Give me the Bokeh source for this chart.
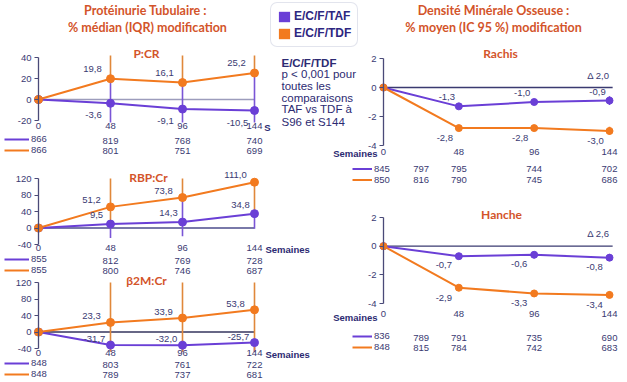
from bokeh.plotting import figure
from bokeh.models import Range1d, LinearAxis, FixedTicker, Label, Legend, LegendItem
from bokeh.embed import file_html
from bokeh.resources import INLINE
from bokeh.core.properties import value

# ---------------- data ----------------
weeks = [0, 48, 96, 144]
count_weeks_left = [0, 48, 96, 144]
count_weeks_right = [0, 24, 48, 96, 144]
series_names = ["E/C/F/TAF", "E/C/F/TDF"]

# Protéinurie tubulaire : % médian (IQR)
pcr_ticks = [-20, 0, 20, 40]
pcr_taf = [0, -3.6, -9.1, -10.5]
pcr_taf_lo = [0, -22, -22, -22]
pcr_taf_hi = [0, 22, 20, 24]
pcr_tdf = [0, 19.8, 16.1, 25.2]
pcr_tdf_lo = [0, 18, 14, 24]
pcr_tdf_hi = [0, 42, 42, 42]
pcr_n_taf = [866, 819, 768, 740]
pcr_n_tdf = [866, 801, 751, 699]

rbp_ticks = [-40, 0, 40, 80, 120]
rbp_taf = [0, 9.5, 14.3, 34.8]
rbp_taf_lo = [0, -24, -20, -2]
rbp_taf_hi = [0, 10, 70, 35]
rbp_tdf = [0, 51.2, 73.8, 111.0]
rbp_tdf_lo = [0, 10, 70, 35]
rbp_tdf_hi = [0, 120, 120, 120]
rbp_n_taf = [855, 812, 769, 728]
rbp_n_tdf = [855, 800, 746, 687]

b2m_ticks = [-40, 0, 40, 80, 120]
b2m_taf = [0, -31.7, -32.0, -25.7]
b2m_taf_lo = [0, -48, -48, -48]
b2m_taf_hi = [0, -20, -20, -20]
b2m_tdf = [0, 23.3, 33.9, 53.8]
b2m_tdf_lo = [0, -48, -48, -48]
b2m_tdf_hi = [0, 120, 120, 120]
b2m_n_taf = [848, 803, 761, 722]
b2m_n_tdf = [848, 789, 737, 681]

# Densité minérale osseuse : % moyen (IC 95 %)
bmd_ticks = [-4, -2, 0, 2]
spine_taf = [0, -1.3, -1.0, -0.9]
spine_taf_lo = [0, -1.5, -1.2, -1.2]
spine_taf_hi = [0, -1.1, -0.8, -0.6]
spine_tdf = [0, -2.8, -2.8, -3.0]
spine_tdf_lo = [0, -3.0, -3.0, -3.25]
spine_tdf_hi = [0, -2.6, -2.6, -2.7]
spine_n_taf = [845, 797, 795, 744, 702]
spine_n_tdf = [850, 816, 790, 745, 686]
spine_delta = "Δ 2,0"

hip_taf = [0, -0.7, -0.6, -0.8]
hip_taf_lo = [0, -0.9, -0.85, -1.0]
hip_taf_hi = [0, -0.5, -0.4, -0.55]
hip_tdf = [0, -2.9, -3.3, -3.4]
hip_tdf_lo = [0, -3.1, -3.55, -3.6]
hip_tdf_hi = [0, -2.7, -3.05, -3.15]
hip_n_taf = [836, 789, 791, 735, 690]
hip_n_tdf = [848, 815, 784, 742, 683]
hip_delta = "Δ 2,6"

note_lines = ["E/C/F/TDF", "p < 0,001 pour", "toutes les", "comparaisons",
              "TAF vs TDF à", "S96 et S144"]

# ---------------- layout / style ----------------
W, H = 627, 382
def X(x):
    return x
def Y(y):
    return y

PURPLE = "#6a3fd6"
ORANGE = "#f27a1f"
PURPLE_BAR = "#7a55d6"
ORANGE_BAR = "#e0883a"
TITLE = "#d3542a"
NAVY = "#2c2a72"
TEXT = "#3a3a72"
AXIS = "#4a4a78"
FONT = "Liberation Sans"
TFONT = "Lato"

p = figure(width=W, height=H, x_range=Range1d(0, W), y_range=Range1d(H, 0),
           x_axis_type=None, y_axis_type=None, toolbar_location=None,
           output_backend="svg", min_border=0, title=None)
p.outline_line_color = None
p.background_fill_color = "white"
p.border_fill_color = "white"

LAYOUT = {
    "pcr":   dict(xpx=(38, 254), ya=(40, 57), yb=(-20, 120)),
    "rbp":   dict(xpx=(38, 254), ya=(120, 178), yb=(-40, 244)),
    "b2m":   dict(xpx=(38, 254), ya=(120, 282), yb=(-40, 348)),
    "spine": dict(xpx=(383, 609), ya=(2, 58), yb=(-4, 145)),
    "hip":   dict(xpx=(383, 609), ya=(2, 217), yb=(-4, 303)),
}
xr_map, yr_map = {}, {}
for name, L in LAYOUT.items():
    a, b = X(L["xpx"][0]), X(L["xpx"][1])
    s = (b - a) / (weeks[-1] - weeks[0])
    xr_map[name] = Range1d(weeks[0] - a / s, weeks[0] + (W - a) / s)
    (va, pa), (vb, pb) = L["ya"], L["yb"]
    pa, pb = Y(pa), Y(pb)
    k = (pb - pa) / (va - vb)
    yr_map[name] = Range1d(va - (H - pa) / k, va + pa / k)
p.extra_x_ranges = xr_map
p.extra_y_ranges = yr_map


def fmt(v):
    return f"{v:.1f}".replace(".", ",")


def label(x, y, text, size="9.5px", color=TEXT, font=FONT, style="normal",
          align="center"):
    p.add_layout(Label(x=x, y=y, text=text, text_font=font,
                       text_font_size=size, text_color=color,
                       text_font_style=style, text_align=align,
                       text_baseline="middle"))


def draw_panel(name, ticks, taf, taf_lo, taf_hi, tdf, tdf_lo, tdf_hi,
               cweeks, n_taf, n_tdf, st):
    kw = dict(x_range_name=name, y_range_name=name)
    # y axis
    yax = LinearAxis(fixed_location=weeks[0], bounds=(ticks[0], ticks[-1]),
                     ticker=FixedTicker(ticks=ticks), **kw)
    yax.major_label_overrides = {t: str(t) for t in ticks}
    yax.axis_line_color = AXIS
    yax.axis_line_width = 1.3
    yax.major_tick_line_color = AXIS
    yax.major_tick_line_width = 1.2
    yax.major_tick_out = 4
    yax.major_tick_in = 0
    yax.minor_tick_out = 0
    yax.minor_tick_in = 0
    yax.major_label_standoff = 3
    yax.major_label_text_font = FONT
    yax.major_label_text_font_size = "9.5px"
    yax.major_label_text_color = TEXT
    p.add_layout(yax, "left")
    # week labels
    xax = LinearAxis(fixed_location=ticks[0], bounds=(weeks[0], weeks[-1]),
                     ticker=FixedTicker(ticks=weeks), **kw)
    xax.axis_line_color = None
    xax.major_tick_line_color = None
    xax.major_tick_out = 0
    xax.major_tick_in = 0
    xax.minor_tick_out = 0
    xax.minor_tick_in = 0
    xax.major_label_standoff = st["xstand"]
    xax.major_label_text_font = FONT
    xax.major_label_text_font_size = "9.5px"
    xax.major_label_text_color = TEXT
    p.add_layout(xax, "below")
    # zero line
    p.segment(x0=[weeks[0]], x1=[weeks[-1] + st["zext"]], y0=[0], y1=[0],
              line_color=st["zero"], line_width=1.4, **kw)
    if st["bars"] == "iqr":
        p.segment(x0=weeks[1:], x1=weeks[1:], y0=taf_lo[1:], y1=taf_hi[1:],
                  line_color=PURPLE_BAR, line_width=1.6, **kw)
        p.segment(x0=weeks[1:], x1=weeks[1:], y0=tdf_lo[1:], y1=tdf_hi[1:],
                  line_color=ORANGE_BAR, line_width=1.6, **kw)
    l_taf = p.line(weeks, taf, line_color=PURPLE, line_width=2, **kw)
    l_tdf = p.line(weeks, tdf, line_color=ORANGE, line_width=2, **kw)
    if st["bars"] == "ci":
        p.segment(x0=weeks[1:], x1=weeks[1:], y0=taf_lo[1:], y1=taf_hi[1:],
                  line_color=PURPLE, line_width=1.6, **kw)
        p.segment(x0=weeks[1:], x1=weeks[1:], y0=tdf_lo[1:], y1=tdf_hi[1:],
                  line_color=ORANGE, line_width=1.6, **kw)
    p.scatter(weeks, taf, size=st["msize"], fill_color=PURPLE,
              line_color=PURPLE, **kw)
    p.scatter(weeks, tdf, size=st["msize"], fill_color=ORANGE,
              line_color=ORANGE, **kw)
    # value labels
    for vals, off in ((taf, st["off_taf"]), (tdf, st["off_tdf"])):
        p.text(x=weeks[1:], y=vals[1:], text=[fmt(v) for v in vals[1:]],
               x_offset=off[0], y_offset=off[1], text_align="center",
               text_baseline="middle", text_font=value(FONT),
               text_font_size="9.5px", text_color=TEXT, **kw)
    # patient counts
    r1, r2 = Y(st["rows"][0]), Y(st["rows"][1])
    for row, ns in ((r1, n_taf), (r2, n_tdf)):
        p.text(x=cweeks[1:], y=[row] * (len(ns) - 1),
               text=[str(n) for n in ns[1:]], text_align="center",
               text_baseline="middle", text_font=value(FONT),
               text_font_size="9.5px", text_color=TEXT, x_range_name=name)
    ih = r2 - r1
    leg = Legend(items=[LegendItem(label=str(n_taf[0]), renderers=[l_taf]),
                        LegendItem(label=str(n_tdf[0]), renderers=[l_tdf])])
    leg.location = (X(st["keyx"]), H - (r1 - ih / 2) - 2 * ih)
    leg.glyph_width = st["keyw"]
    leg.glyph_height = int(ih)
    leg.label_height = int(ih)
    leg.label_standoff = 2
    leg.spacing = 0
    leg.padding = 0
    leg.margin = 0
    leg.border_line_color = None
    leg.background_fill_alpha = 0
    leg.label_text_font = FONT
    leg.label_text_font_size = "9.5px"
    leg.label_text_color = TEXT
    leg.label_text_baseline = "middle"
    p.add_layout(leg)


left_common = dict(bars="iqr", msize=8, keyx=4, keyw=25, zext=0)
right_common = dict(bars="ci", msize=7, keyx=352, keyw=20, zext=2)

draw_panel("pcr", pcr_ticks, pcr_taf, pcr_taf_lo, pcr_taf_hi, pcr_tdf,
           pcr_tdf_lo, pcr_tdf_hi, count_weeks_left, pcr_n_taf, pcr_n_tdf,
           dict(left_common, xstand=2, off_taf=(-17, 12), off_tdf=(-18, -10),
                zero="#9c9cbc", rows=(140, 150)))
draw_panel("rbp", rbp_ticks, rbp_taf, rbp_taf_lo, rbp_taf_hi, rbp_tdf,
           rbp_tdf_lo, rbp_tdf_hi, count_weeks_left, rbp_n_taf, rbp_n_tdf,
           dict(left_common, xstand=0, off_taf=(-14, -9), off_tdf=(-19, -7),
                zero="#4c4c8c", rows=(260, 270)))
draw_panel("b2m", b2m_ticks, b2m_taf, b2m_taf_lo, b2m_taf_hi, b2m_tdf,
           b2m_tdf_lo, b2m_tdf_hi, count_weeks_left, b2m_n_taf, b2m_n_tdf,
           dict(left_common, xstand=1, off_taf=(-16, -6), off_tdf=(-19, -6),
                zero="#35355e", rows=(364, 374)))
draw_panel("spine", bmd_ticks, spine_taf, spine_taf_lo, spine_taf_hi,
           spine_tdf, spine_tdf_lo, spine_tdf_hi, count_weeks_right,
           spine_n_taf, spine_n_tdf,
           dict(right_common, xstand=3, off_taf=(-12, -9), off_tdf=(-14, 10),
                zero="#3a3a70", rows=(168, 179)))
draw_panel("hip", bmd_ticks, hip_taf, hip_taf_lo, hip_taf_hi,
           hip_tdf, hip_tdf_lo, hip_tdf_hi, count_weeks_right,
           hip_n_taf, hip_n_tdf,
           dict(right_common, xstand=7, off_taf=(-15, 9), off_tdf=(-15, 10),
                zero="#3a3a70", rows=(337, 347)))

# ---------------- titles & texts ----------------
label(X(145), Y(10), "Protéinurie Tubulaire :", "12.5px", TITLE, TFONT, "bold")
label(X(147), Y(27), "% médian (IQR) modification", "12.5px", TITLE, TFONT, "bold")
label(X(493), Y(10), "Densité Minérale Osseuse :", "12.5px", TITLE, TFONT, "bold")
label(X(493), Y(27), "% moyen (IC 95 %) modification", "12.5px", TITLE, TFONT, "bold")

label(X(146), Y(53), "P:CR", "12px", TITLE, TFONT, "bold")
label(X(148), Y(177), "RBP:Cr", "12px", TITLE, TFONT, "bold")
label(X(146), Y(280), "β2M:Cr", "12px", TITLE, TFONT, "bold")
label(X(500), Y(53), "Rachis", "12px", TITLE, TFONT, "bold")
label(X(501), Y(214), "Hanche", "12px", TITLE, TFONT, "bold")

label(X(267), Y(127), "S", "9.5px", NAVY, FONT, "bold")
label(X(265), Y(249), "Semaines", "9.5px", NAVY, FONT, "bold", "left")
label(X(265), Y(354), "Semaines", "9.5px", NAVY, FONT, "bold", "left")
label(X(377), Y(153), "Semaines", "9.5px", NAVY, FONT, "bold", "right")
label(X(377), Y(317), "Semaines", "9.5px", NAVY, FONT, "bold", "right")

label(X(609), Y(75), spine_delta, "9.5px", TEXT, FONT, "normal", "right")
label(X(609), Y(233), hip_delta, "9.5px", TEXT, FONT, "normal", "right")

note_y = [62, 73, 85, 97, 108, 121]
for i, (t, yy) in enumerate(zip(note_lines, note_y)):
    label(X(281), Y(yy), t, "11.5px", NAVY, FONT, "bold" if i == 0 else "normal",
          "left")

# main legend (zero-size key renderers anchored on the baseline point)
sq_taf = p.quad(left=weeks[:1], right=weeks[:1], bottom=pcr_taf[:1],
                top=pcr_taf[:1], fill_color=PURPLE, line_color=None,
                x_range_name="pcr", y_range_name="pcr")
sq_tdf = p.quad(left=weeks[:1], right=weeks[:1], bottom=pcr_tdf[:1],
                top=pcr_tdf[:1], fill_color=ORANGE, line_color=None,
                x_range_name="pcr", y_range_name="pcr")
main_leg = Legend(items=[LegendItem(label=series_names[0], renderers=[sq_taf]),
                         LegendItem(label=series_names[1], renderers=[sq_tdf])])
main_leg.location = (X(270), H - Y(47))
main_leg.glyph_width = 14
main_leg.glyph_height = 13
main_leg.label_height = 13
main_leg.label_standoff = 3
main_leg.spacing = 3
main_leg.padding = 6
main_leg.margin = 0
main_leg.border_line_color = "#c5c9dc"
main_leg.border_line_width = 1.2
main_leg.background_fill_color = "white"
main_leg.label_text_font = FONT
main_leg.label_text_font_size = "12px"
main_leg.label_text_font_style = "bold"
main_leg.label_text_color = "#2e2680"
try:
    main_leg.border_radius = 7
except Exception:
    pass
p.add_layout(main_leg)

open("out.html", "w").write(file_html(p, INLINE))
